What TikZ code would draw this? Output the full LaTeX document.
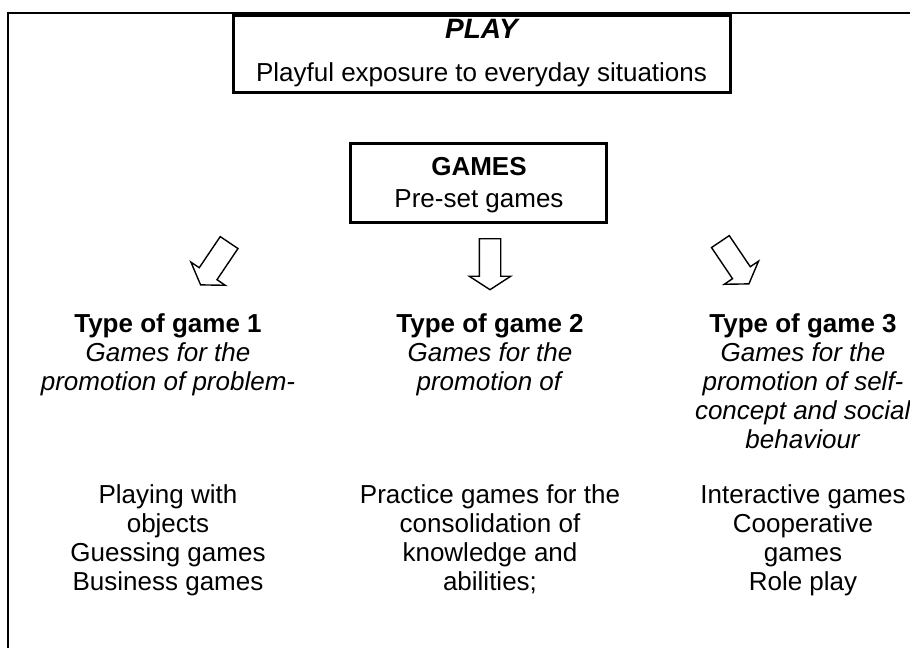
\documentclass[tikz,border=0pt]{standalone}
\usepackage{fontspec}
\setmainfont{Liberation Sans}
\usetikzlibrary{shapes.arrows}

\begin{document}
\begin{tikzpicture}[x=0.5pt,y=-0.5pt,
  font=\fontsize{13pt}{14.5pt}\selectfont,
  bigbox/.style={draw,line width=1.5pt,inner sep=0pt},
  coltext/.style={anchor=base,align=center,inner sep=0pt},
  blockarrow/.style={draw,line width=0.7pt,shape=single arrow,inner sep=5pt,
    minimum width=20pt,minimum height=25.5pt,single arrow head extend=5pt,
    single arrow tip angle=114,anchor=tail}]
\useasboundingbox (0,0) rectangle (910,648);
\draw[line width=1pt] (8,648) -- (8,13) -- (910,13);
% boxes at the top
\node[bigbox,minimum width=248.5pt,minimum height=38.5pt] (play) at (481.5,53.5) {};
\node[coltext,font=\fontsize{14pt}{16pt}\selectfont] (playtitle) at (481.5,39) {\bfseries\itshape PLAY};
\node[coltext] (playtext) at (481.5,81.5) {Playful exposure to everyday situations};
\node[bigbox,minimum width=128pt,minimum height=39.5pt] (games) at (478,182.5) {};
\node[coltext] (gamestitle) at (479,175) {\bfseries GAMES};
\node[coltext] (gamestext) at (479,207) {Pre-set games};
% arrows
\node[blockarrow,rotate=-124] (arrow1) at (229.5,242) {};
\node[blockarrow,rotate=-90] (arrow2) at (490,238) {};
\node[blockarrow,rotate=-56] (arrow3) at (720,241) {};
% types of game (base = last line)
\node[coltext] (type1) at (168,390) {\textbf{Type of game 1}\\\textit{Games for the}\\\textit{promotion of problem-}};
\node[coltext] (type2) at (490,390) {\textbf{Type of game 2}\\\textit{Games for the}\\\textit{promotion of}};
\node[coltext] (type3) at (803,448) {\textbf{Type of game 3}\\\textit{Games for the}\\\textit{promotion of self-}\\\textit{concept and social}\\\textit{behaviour}};
% examples
\node[coltext] (list1) at (168,590) {Playing with\\objects\\Guessing games\\Business games};
\node[coltext] (list2) at (490,590) {Practice games for the\\consolidation of\\knowledge and\\abilities;};
\node[coltext] (list3) at (803,590) {Interactive games\\Cooperative\\games\\Role play};
\end{tikzpicture}
\end{document}
